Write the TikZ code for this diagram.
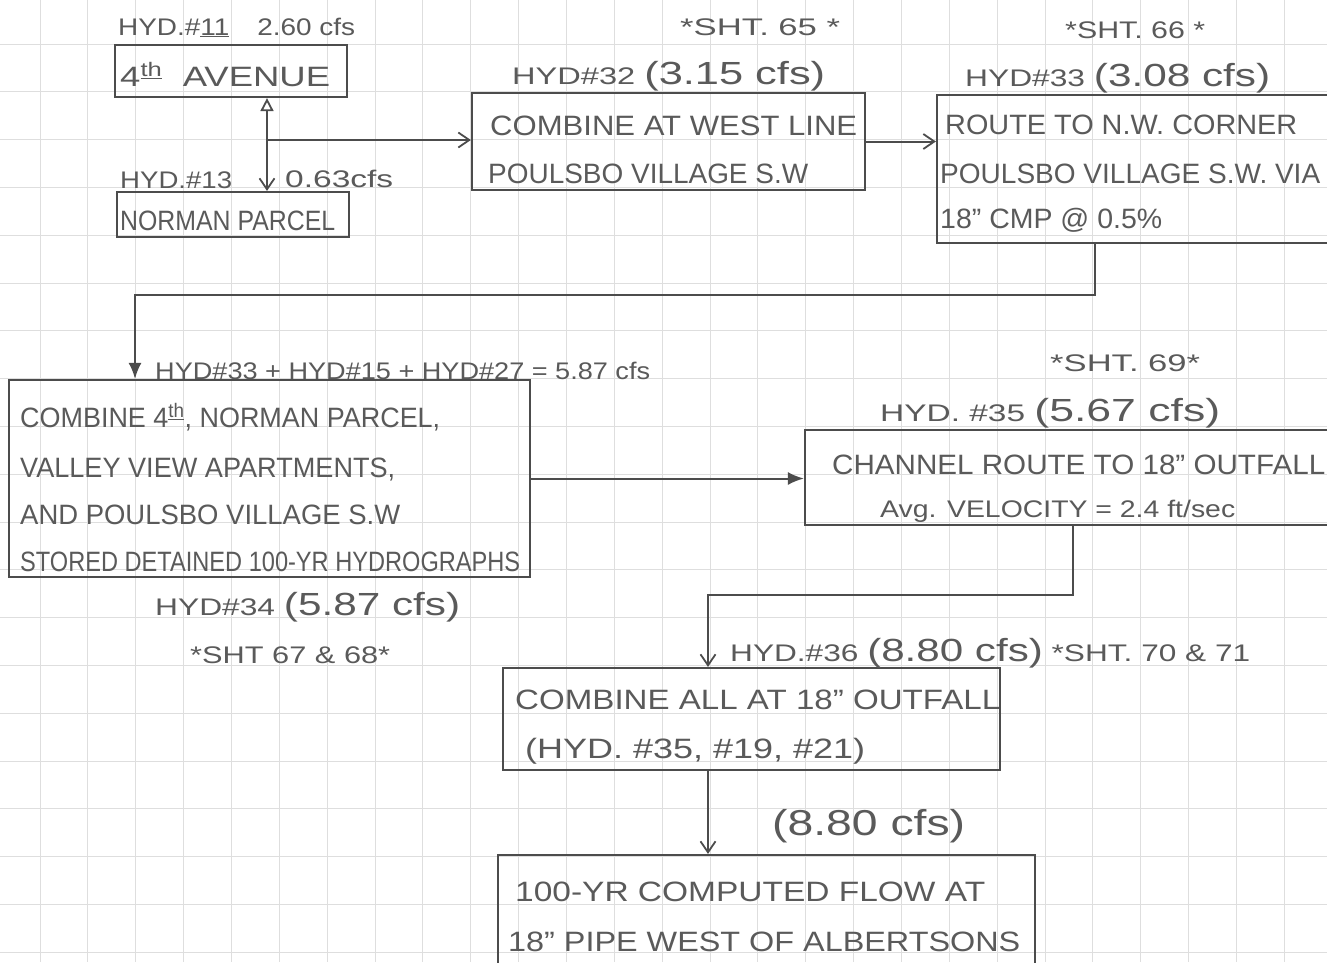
\documentclass[tikz,border=0pt]{standalone}
\usepackage{fontspec}
\setmainfont{Liberation Sans}
\usepackage{graphicx}
\usetikzlibrary{arrows.meta}
\definecolor{pencil}{HTML}{5A5A5A}
\definecolor{boxline}{HTML}{4C4C4C}
\definecolor{gridc}{HTML}{DEDEDE}
\newcommand\fitw[2]{\resizebox{#1pt}{\height}{#2}}
\tikzset{
  box/.style={draw=boxline, line width=2.2pt, inner sep=0pt},
  lbl/.style={font=\fontsize{24}{28}\selectfont, text=pencil, inner sep=0pt, anchor=base west},
  txt/.style={font=\fontsize{28}{32}\selectfont, text=pencil, inner sep=0pt, anchor=base west},
  big/.style={font=\fontsize{32}{36}\selectfont},
  conn/.style={draw=boxline, line width=2pt},
  openv/.style={-{Straight Barb[length=11pt,width=15pt,line width=1.8pt]}},
  solidv/.style={-{Latex[length=16pt,width=13pt]}},
}
\begin{document}
\begin{tikzpicture}[x=1pt,y=-1pt]
\useasboundingbox (0,0) rectangle (1327,962);
\fill[white] (0,0) rectangle (1327,962);
% grid paper
\begin{scope}
\clip (0,0) rectangle (1327,962);
\foreach \k in {-1,...,27} {\draw[gridc, line width=1pt] ({40+47.86*\k},0) -- ({40+47.86*\k},962);}
\foreach \k in {-6,...,14} {\draw[gridc, line width=1pt] (0,{283+47.8*\k}) -- (1327,{283+47.8*\k});}
\end{scope}

% boxes
\node[box, minimum width=232, minimum height=52] (ave) at (231,71) {};
\node[box, minimum width=232, minimum height=45] (norman) at (233,214.5) {};
\node[box, minimum width=393, minimum height=97] (west) at (668.5,141.5) {};
\node[box, minimum width=403, minimum height=148] (route) at (1138.5,169) {};
\node[box, minimum width=521, minimum height=197] (big) at (269.5,478.5) {};
\node[box, minimum width=535, minimum height=95] (channel) at (1072.5,477.5) {};
\node[box, minimum width=497, minimum height=102] (all) at (751.5,719) {};
\node[box, minimum width=537, minimum height=120] (final) at (766.5,915) {};

% connectors
\coordinate (jx) at (267,140);
\draw[conn, {Triangle[open,length=13pt,width=13pt,line width=1.8pt]}-{Straight Barb[length=11pt,width=15pt,line width=1.8pt]}] (ave.south -| jx) -- (norman.north -| jx);
\draw[conn, openv] (jx) -- (jx -| west.west);
\draw[conn, openv] (west.east) -- (west.east -| route.west);
\coordinate (r1) at (1095,295);
\coordinate (bk) at (135,295);
\draw[conn, solidv] (route.south -| r1) -- (r1) -- (bk) -- (big.north -| bk);
\draw[conn, solidv] (big.east) -- (big.east -| channel.west);
\coordinate (c1) at (1073,595);
\coordinate (ak) at (708,595);
\draw[conn, openv] (channel.south -| c1) -- (c1) -- (ak) -- (all.north -| ak);
\draw[conn, openv] (all.south -| ak) -- (final.north -| ak);

% labels
\node[lbl] (l11) at (118,35) {\fitw{237}{HYD.\#\underline{11}\quad 2.60 cfs}};
\node[txt] (t1) at (120,86) {\fitw{210}{4\textsuperscript{\underline{th}}\ \ AVENUE}};
\node[lbl] (l13) at (120,188) {\fitw{112}{HYD.\#13}};
\node[lbl] (l13q) at (285,187) {\fitw{108}{0.63cfs}};
\node[txt] (t2) at (120,230) {\fitw{215}{NORMAN PARCEL}};

\node[lbl] (s65) at (680,35) {\fitw{160}{*SHT. 65 *}};
\node[lbl] (l32) at (512,84) {\fitw{313}{HYD\#32 {\fontsize{32}{36}\selectfont (3.15 cfs)}}};
\node[txt] (t3a) at (490,135) {\fitw{367}{COMBINE AT WEST LINE}};
\node[txt] (t3b) at (488,183) {\fitw{320}{POULSBO VILLAGE S.W}};

\node[lbl] (s66) at (1065,38) {\fitw{140}{*SHT. 66 *}};
\node[lbl] (l33) at (965,86) {\fitw{305}{HYD\#33 {\fontsize{32}{36}\selectfont (3.08 cfs)}}};
\node[txt] (t4a) at (945,134) {\fitw{352}{ROUTE TO N.W. CORNER}};
\node[txt] (t4b) at (940,183) {\fitw{380}{POULSBO VILLAGE S.W. VIA}};
\node[txt] (t4c) at (940,228) {\fitw{222}{18" CMP @ 0.5\%}};

\node[lbl] (lsum) at (155,379) {\fitw{495}{HYD\#33 + HYD\#15 + HYD\#27 = 5.87 cfs}};
\node[txt] (t5a) at (20,427) {\fitw{420}{COMBINE 4\textsuperscript{\underline{th}}, NORMAN PARCEL,}};
\node[txt] (t5b) at (20,477) {\fitw{375}{VALLEY VIEW APARTMENTS,}};
\node[txt] (t5c) at (20,524) {\fitw{380}{AND POULSBO VILLAGE S.W}};
\node[txt] (t5d) at (20,571) {\fitw{500}{STORED DETAINED 100-YR HYDROGRAPHS}};
\node[lbl] (l34) at (155,615) {\fitw{305}{HYD\#34 {\fontsize{32}{36}\selectfont (5.87 cfs)}}};
\node[lbl] (s67) at (190,663) {\fitw{200}{*SHT 67 \& 68*}};

\node[lbl] (s69) at (1050,371) {\fitw{150}{*SHT. 69*}};
\node[lbl] (l35) at (880,421) {\fitw{340}{HYD. \#35 {\fontsize{32}{36}\selectfont (5.67 cfs)}}};
\node[txt] (t6a) at (832,474) {\fitw{493}{CHANNEL ROUTE TO 18" OUTFALL}};
\node[lbl] (t6b) at (880,517) {\fitw{355}{Avg. VELOCITY = 2.4 ft/sec}};

\node[lbl] (l36) at (730,661) {\fitw{520}{HYD.\#36 {\fontsize{32}{36}\selectfont (8.80 cfs)} *SHT. 70 \& 71}};
\node[txt] (t7a) at (515,709) {\fitw{485}{COMBINE ALL AT 18" OUTFALL}};
\node[txt] (t7b) at (525,758) {\fitw{340}{(HYD. \#35, \#19, \#21)}};
\node[lbl] (l880) at (772,835) {\fontsize{36}{40}\selectfont\fitw{193}{(8.80 cfs)}};

\node[txt] (t8a) at (515,901) {\fitw{470}{100-YR COMPUTED FLOW AT}};
\node[txt] (t8b) at (508,951) {\fitw{512}{18" PIPE WEST OF ALBERTSONS}};
\end{tikzpicture}
\end{document}
